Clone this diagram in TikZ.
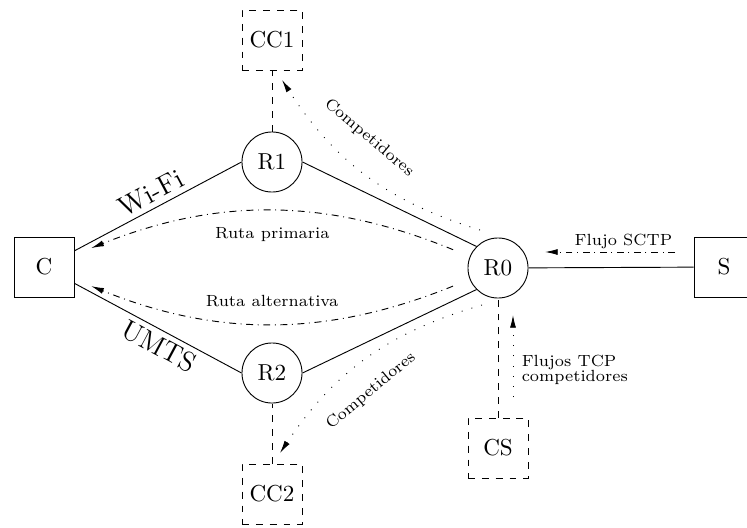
\documentclass[tikz,border=0pt]{standalone}
\usetikzlibrary{arrows.meta,calc}
\begin{document}
\begin{tikzpicture}[x=0.4329pt,y=-0.4329pt,
  router/.style={circle,draw,minimum size=26pt,inner sep=0pt},
  host/.style={rectangle,draw,minimum size=26pt,inner sep=0pt},
  cross/.style={rectangle,draw,dashed,minimum size=26pt,inner sep=0pt},
  tip/.style={-{Latex[length=5.5pt,width=2.6pt]}},
  lbl/.style={font=\scriptsize,inner sep=1pt},
  link/.style={font=\large,inner sep=2pt}
]
\useasboundingbox (0,0) rectangle (747,527);
\node[host] (C) at (44,267) {C};
\node[router] (R1) at (272,162) {R1};
\node[router] (R2) at (272,373) {R2};
\node[router] (R0) at (498,268) {R0};
\node[host] (S) at (724,267) {S};
\node[cross] (CC1) at (272,40) {CC1};
\node[cross] (CC2) at (272,494) {CC2};
\node[cross] (CS) at (498,448) {CS};

\draw (C) -- node[midway,above,sloped,link] {Wi-Fi} (R1.west);
\draw (C) -- node[pos=0.55,below,sloped,link] {UMTS} (R2.west);
\draw (R1.east) -- (R0.north west);
\draw (R2.east) -- (R0.south west);
\draw (R0) -- (S);
\draw[dashed] (R1) -- (CC1);
\draw[dashed] (CC2) -- (R2);
\draw[dashed] (CS) -- (R0);

\draw[dash dot,tip,shorten <=7.8pt,shorten >=7.8pt] (R0) to[bend right=22]
  node[midway,below=5.5pt,lbl] {Ruta primaria} (C);
\draw[dash dot,tip,shorten <=7.8pt,shorten >=7.8pt] (R0) to[bend left=22]
  node[midway,above=5.5pt,lbl] {Ruta alternativa} (C);

\coordinate (k1) at (480,230);
\coordinate (k2) at (282,80);
\draw[loosely dotted,tip] (k1) to[bend left=20] (k2);
\node[lbl,rotate=-40] (lc1) at (369,138) {Competidores};

\coordinate (k3) at (482,305);
\coordinate (k4) at (280,453);
\draw[loosely dotted,tip] (k3) to[bend right=20] (k4);
\node[lbl,rotate=40] (lc2) at (371,391) {Competidores};

\coordinate (f1) at (675,252);
\coordinate (f2) at (545,252);
\draw[dash dot,tip] (f1) -- node[pos=0,anchor=south east,lbl] {Flujo SCTP} (f2);

\coordinate (t1) at (513,397);
\coordinate (t2) at (513,315);
\draw[loosely dotted,tip] (t1) -- (t2);
\node[lbl,align=left,anchor=west] (lt) at (519,370) {Flujos TCP\\[-1.5pt]competidores};
\end{tikzpicture}
\end{document}
